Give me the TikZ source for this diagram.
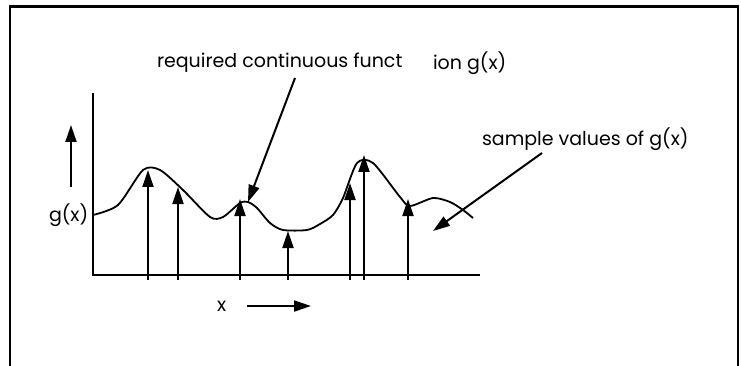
\documentclass[tikz,border=0pt]{standalone}
\usepackage{fontspec}
\setmainfont{Poppins}
\usetikzlibrary{arrows.meta}

\begin{document}
\begin{tikzpicture}[x=1pt,y=-1pt,>={Triangle[length=17pt,width=11pt]},
    line width=2pt,font=\fontsize{19}{21}\selectfont,
    lbl/.style={inner sep=0pt,anchor=west}]
    \useasboundingbox (0,0) rectangle (741,366);
    % frame, cut off at the bottom
    \draw[line width=2.6pt] (10,366) -- (10,6.5) -- (738,6.5) -- (738,366);
    % labels
    \node[lbl] (req) at (156,63) {required continuous funct};
    \node[lbl] (ion) at (432,63) {ion g(x)};
    \node[lbl] (samp) at (481,139) {sample values of g(x)};
    \node[lbl] (gx) at (48,215) {g(x)};
    \node[lbl] (xl) at (216,306) {x};
    % axes
    \coordinate (ytop) at (93,93);
    \coordinate (orig) at (93,275);
    \coordinate (xend) at (480,275);
    \draw (ytop) -- (orig) -- (xend);
    \coordinate (up0) at (71,187);
    \coordinate (up1) at (71,125);
    \draw[->] (up0) -- (up1);
    \coordinate (xa0) at (247,306);
    \coordinate (xa1) at (311,306);
    \draw[->] (xa0) -- (xa1);
    % continuous function
    \draw[line width=1.8pt] plot[smooth,tension=0.45] coordinates {
      (93,215) (118,205) (143,170) (160,170) (183,190) (210,217) (223,217)
      (240,203) (248,202) (257,208) (270,223) (283,230) (307,230) (320,224)
      (333,215) (343,198) (357,163) (373,163) (400,197) (410,206) (433,198)
      (450,202) (463,210) (473,218)};
    % sample values
    \coordinate (s1) at (148,170); \coordinate (b1) at (148,280);
    \coordinate (s2) at (178,187); \coordinate (b2) at (178,280);
    \coordinate (s3) at (240,199); \coordinate (b3) at (240,280);
    \coordinate (s4) at (288,231); \coordinate (b4) at (288,280);
    \coordinate (s5) at (350,183); \coordinate (b5) at (350,280);
    \coordinate (s6) at (364,155); \coordinate (b6) at (364,280);
    \coordinate (s7) at (408,199); \coordinate (b7) at (408,280);
    \draw[->] (b1) -- (s1);
    \draw[->] (b2) -- (s2);
    \draw[->] (b3) -- (s3);
    \draw[->] (b4) -- (s4);
    \draw[->] (b5) -- (s5);
    \draw[->] (b6) -- (s6);
    \draw[->] (b7) -- (s7);
    % pointers from the labels
    \coordinate (rtail) at (295,78);
    \coordinate (rtip) at (248,202);
    \coordinate (stail) at (542,153);
    \coordinate (stip) at (433,231);
    \draw[->] (rtail) -- (rtip);
    \draw[->] (stail) -- (stip);
  \end{tikzpicture}
\end{document}
